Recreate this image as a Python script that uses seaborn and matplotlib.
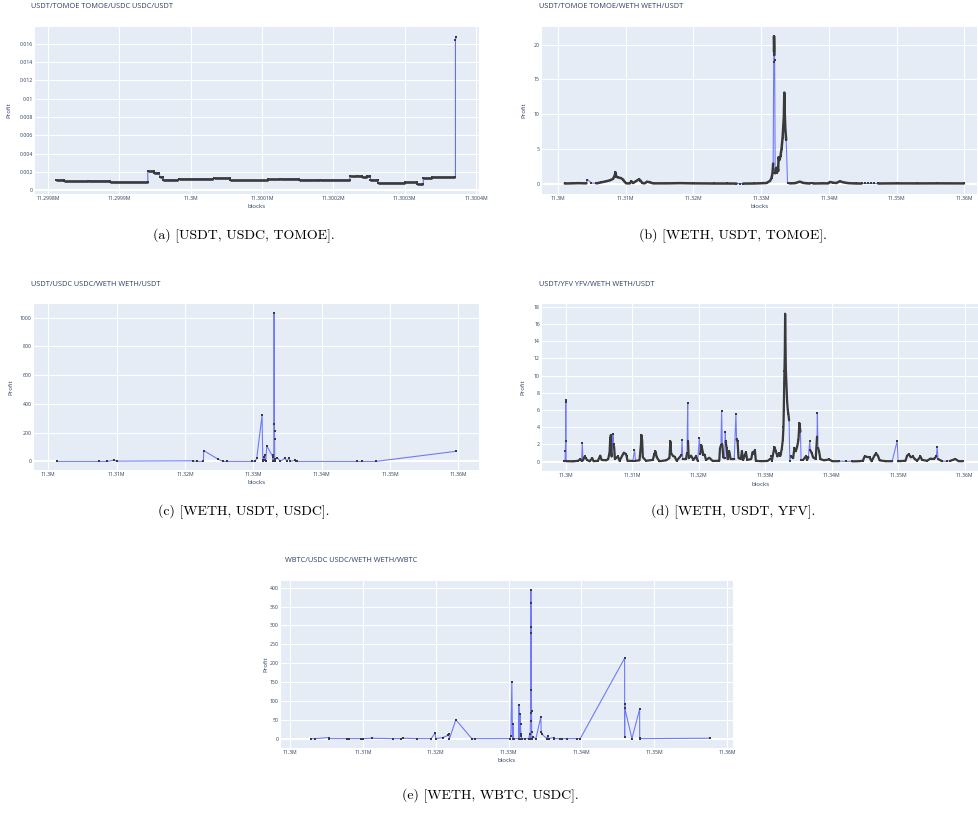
import numpy as np
import pandas as pd
import matplotlib
matplotlib.use("Agg")
import matplotlib.pyplot as plt
from matplotlib.ticker import FuncFormatter, MultipleLocator
import seaborn as sns

# ---- (a) USDT/TOMOE TOMOE/USDC USDC/USDT : step-like profit levels ----
a_start = [11299812, 11299823, 11299856, 11299887, 11299940, 11299949, 11299957, 11299962, 11299984,
           11300033, 11300055, 11300109, 11300125, 11300152, 11300181, 11300223, 11300233, 11300240,
           11300247, 11300252, 11300262, 11300300, 11300317, 11300326, 11300338, 11300371, 11300372]
a_end = [11299823, 11299856, 11299887, 11299940, 11299949, 11299956, 11299961, 11299983, 11300032,
         11300055, 11300109, 11300125, 11300152, 11300181, 11300223, 11300233, 11300240, 11300247,
         11300252, 11300262, 11300300, 11300317, 11300326, 11300338, 11300371, 11300371, 11300372]
a_profit = [0.00112, 0.00098, 0.00105, 0.00090, 0.00210, 0.00195, 0.00145, 0.00116, 0.00127,
            0.00134, 0.00109, 0.00120, 0.00127, 0.00116, 0.00114, 0.00152, 0.00159, 0.00145,
            0.00152, 0.00116, 0.00080, 0.00087, 0.00069, 0.00134, 0.00145, 0.01640, 0.01670]

# ---- (b) USDT/TOMOE TOMOE/WETH WETH/USDT ----
b_block = [11301000, 11302000, 11303000, 11304190, 11304335, 11304926, 11305665, 11306400, 11307143, 11307700,
           11308128, 11308374, 11308473, 11308621, 11308867, 11309300, 11309606, 11309852, 11310098, 11310591,
           11310837, 11311084, 11311576, 11311970, 11312167, 11312463, 11312808, 11313152, 11313547, 11314039,
           11316000, 11318000, 11320000, 11323000, 11325000, 11326355, 11326900, 11327340, 11329000, 11330788,
           11331300, 11331527, 11331675, 11331773, 11331850, 11331880, 11331900, 11331930, 11331960, 11331990,
           11332069, 11332167, 11332300, 11332420, 11332512, 11332561, 11332700, 11332857, 11333005, 11333153,
           11333251, 11333350, 11333420, 11333470, 11333560, 11333695, 11333892, 11334200, 11335000, 11335714,
           11336207, 11336800, 11337192, 11337450, 11337685, 11339000, 11339900, 11340146, 11340639, 11341100,
           11341624, 11342116, 11342855, 11344000, 11344828, 11345400, 11345800, 11346200, 11346700, 11347291,
           11350000, 11353000, 11356000, 11359950]
b_profit = [0.03, 0.05, 0.08, 0.05, 0.60, 0.10, 0.05, 0.20, 0.35, 0.50,
            0.70, 1.20, 1.65, 1.00, 0.90, 0.80, 0.60, 0.25, 0.05, 0.05,
            0.35, 0.10, 0.40, 0.65, 0.45, 0.10, 0.05, 0.30, 0.20, 0.05,
            0.05, 0.08, 0.05, 0.03, 0.03, 0.02, 0.02, 0.02, 0.03, 0.10,
            0.40, 0.80, 1.50, 2.90, 17.5, 19.0, 21.2, 20.0, 18.5, 17.8,
            1.50, 2.20, 1.60, 2.40, 1.80, 3.80, 3.40, 4.00, 5.00, 6.50,
            8.00, 9.60, 13.1, 10.5, 8.00, 6.30, 0.05, 0.05, 0.08, 0.30,
            0.12, 0.05, 0.03, 0.03, 0.03, 0.05, 0.05, 0.25, 0.15, 0.10,
            0.35, 0.20, 0.08, 0.03, 0.03, 0.03, 0.03, 0.03, 0.03, 0.03,
            0.05, 0.04, 0.05, 0.04]
# 1 = block inside a dense run of observations, 0 = isolated observation
b_dense = [1, 1, 1, 1, 0, 0, 1, 1, 1, 1,
           1, 1, 1, 1, 1, 1, 1, 1, 1, 1,
           1, 1, 1, 1, 1, 1, 1, 1, 1, 1,
           1, 1, 1, 1, 1, 1, 0, 1, 1, 1,
           1, 1, 1, 1, 0, 1, 1, 1, 1, 0,
           1, 1, 1, 1, 1, 1, 1, 1, 1, 1,
           1, 1, 1, 1, 1, 1, 0, 1, 1, 1,
           1, 1, 1, 0, 1, 1, 1, 1, 1, 1,
           1, 1, 1, 1, 1, 0, 0, 0, 0, 1,
           1, 1, 1, 1]

# ---- (c) USDT/USDC USDC/WETH WETH/USDT ----
c_block = [11301318, 11307466, 11308638, 11309614, 11310004, 11321130, 11321716, 11322692, 11322741, 11324888,
           11325522, 11326108, 11329866, 11330256, 11330500, 11331281, 11331378, 11331476, 11331574, 11331671,
           11331720, 11331818, 11331964, 11332842, 11332891, 11332940, 11332989, 11333038, 11333086, 11333100,
           11333110, 11333135, 11333184, 11333526, 11333916, 11334648, 11334892, 11335185, 11335380, 11336112,
           11336258, 11336454, 11345238, 11345872, 11347970, 11359634]
c_profit = [0, 0, 0, 9, 2, 4, 0, 0, 75, 14,
            0, 0, 0, 0, 22, 322, 0, 10, 33, 45,
            8, 0, 108, 33, 0, 45, 0, 1030, 257, 211,
            158, 0, 14, 25, 0, 22, 0, 22, 0, 7,
            0, 0, 0, 0, 0, 70]

# ---- (d) USDT/YFV YFV/WETH WETH/USDT ----
d_block = [11299700, 11299900, 11299950, 11299980, 11300000, 11300020, 11300040, 11300080, 11300350, 11301100,
           11301850, 11302200, 11302400, 11302500, 11302600, 11302850, 11303000, 11303200, 11303600, 11304000,
           11304200, 11304850, 11305200, 11305400, 11306100, 11306400, 11306600, 11306700, 11306800, 11306900,
           11307000, 11307100, 11307200, 11307300, 11307400, 11307850, 11308100, 11308750, 11309000, 11309150,
           11309300, 11310100, 11310350, 11310500, 11311100, 11311300, 11311400, 11311500, 11311600, 11312100,
           11313100, 11313350, 11313500, 11313700, 11314100, 11315100, 11315600, 11315750, 11315850, 11316100,
           11316400, 11316700, 11317400, 11317500, 11317600, 11318100, 11318250, 11318350, 11318400, 11318500,
           11318850, 11319200, 11319600, 11319850, 11320100, 11320250, 11320400, 11320550, 11320700, 11320900,
           11321100, 11321600, 11322100, 11323100, 11323200, 11323350, 11323450, 11323550, 11323700, 11323900,
           11324000, 11324050, 11324200, 11324350, 11324600, 11324800, 11325350, 11325600, 11325700, 11325850,
           11326000, 11326350, 11326500, 11326700, 11327100, 11327300, 11327900, 11328100, 11328300, 11328450,
           11328600, 11329350, 11330350, 11330750, 11330900, 11331000, 11331400, 11331600, 11331850, 11332100,
           11332300, 11332500, 11332650, 11332750, 11332800, 11332850, 11332900, 11332950, 11333000, 11333050,
           11333100, 11333200, 11333300, 11333400, 11333500, 11333600, 11333700, 11333900, 11334200, 11334400,
           11334600, 11334800, 11335000, 11335150, 11335300, 11335400, 11335700, 11336100, 11336300, 11336500,
           11336700, 11336800, 11337000, 11337200, 11337600, 11337800, 11337850, 11337950, 11338100, 11338300,
           11338850, 11339600, 11340100, 11341100, 11342100, 11343100, 11344100, 11344700, 11344950, 11345350,
           11345700, 11346000, 11346500, 11346700, 11347000, 11347200, 11348100, 11349100, 11349850, 11350000,
           11351100, 11351350, 11351600, 11351900, 11352200, 11352500, 11352850, 11353350, 11353600, 11354350,
           11354850, 11355350, 11355750, 11355850, 11356000, 11356600, 11357350, 11357850, 11358600, 11359100,
           11359700]
d_profit = [0.05, 0.05, 1.2, 2.4, 7.0, 7.2, 6.9, 0.05, 0.05, 0.03,
            0.10, 0.25, 0.10, 2.2, 0.15, 0.60, 0.45, 0.20, 0.05, 0.40,
            0.05, 0.10, 0.70, 0.20, 0.15, 0.30, 1.10, 2.70, 3.10, 0.60,
            0.80, 3.25, 2.00, 1.60, 0.30, 0.60, 0.10, 1.05, 0.90, 0.70,
            0.10, 0.08, 1.35, 0.10, 0.15, 1.80, 3.10, 2.50, 0.50, 0.10,
            0.20, 0.90, 1.20, 0.50, 0.05, 0.15, 0.40, 2.35, 1.00, 0.70,
            0.55, 0.10, 0.75, 2.55, 0.30, 0.30, 1.00, 6.80, 2.40, 0.40,
            0.70, 0.20, 0.60, 0.10, 2.70, 0.90, 1.90, 1.40, 0.80, 0.80,
            0.20, 0.45, 0.08, 0.10, 1.50, 1.90, 5.85, 2.00, 0.50, 0.40,
            3.50, 2.40, 1.60, 0.30, 1.20, 0.30, 0.30, 5.55, 2.60, 2.35,
            0.40, 0.30, 1.20, 0.20, 1.10, 0.20, 0.30, 1.10, 0.90, 1.35,
            0.10, 0.05, 0.08, 0.30, 0.70, 0.10, 1.70, 1.20, 0.60, 1.00,
            0.70, 1.50, 2.50, 4.00, 6.00, 8.50, 10.5, 12.5, 17.2, 14.5,
            11.0, 9.0, 7.0, 6.0, 5.5, 4.8, 0.10, 0.60, 0.40, 1.60,
            1.20, 1.70, 2.50, 4.50, 3.50, 0.20, 0.20, 0.60, 0.20, 0.50,
            2.40, 1.30, 1.00, 0.50, 0.30, 2.90, 5.65, 1.60, 1.20, 0.30,
            0.15, 0.25, 0.05, 0.05, 0.03, 0.03, 0.05, 0.10, 0.60, 0.55,
            0.50, 0.05, 0.80, 0.95, 0.60, 0.15, 0.05, 0.05, 2.40, 0.05,
            0.10, 0.70, 0.85, 0.50, 0.60, 0.30, 0.10, 0.60, 0.20, 0.10,
            0.35, 0.30, 0.60, 1.70, 0.30, 0.05, 0.05, 0.10, 0.30, 0.05,
            0.05]
d_dense = [1, 1, 0, 0, 0, 0, 0, 1, 1, 1,
           1, 1, 1, 0, 1, 1, 1, 1, 1, 1,
           1, 1, 1, 1, 1, 1, 1, 1, 1, 1,
           1, 0, 1, 1, 1, 1, 1, 1, 1, 1,
           1, 1, 0, 1, 1, 1, 1, 1, 1, 1,
           1, 1, 1, 1, 1, 1, 1, 1, 1, 1,
           1, 1, 1, 0, 1, 1, 1, 0, 1, 1,
           1, 1, 1, 1, 0, 1, 1, 1, 1, 1,
           1, 1, 1, 1, 1, 1, 0, 1, 1, 1,
           0, 1, 1, 1, 1, 1, 1, 0, 1, 1,
           1, 1, 1, 1, 1, 1, 1, 1, 1, 1,
           1, 1, 1, 1, 0, 1, 1, 1, 1, 1,
           1, 1, 1, 1, 1, 1, 1, 1, 1, 1,
           1, 1, 1, 1, 1, 1, 0, 1, 1, 1,
           1, 1, 1, 1, 1, 0, 1, 1, 1, 1,
           0, 1, 1, 1, 1, 1, 0, 1, 1, 1,
           1, 1, 1, 1, 0, 1, 1, 1, 1, 1,
           1, 1, 1, 1, 1, 1, 1, 1, 0, 1,
           1, 1, 1, 1, 1, 1, 1, 1, 1, 1,
           1, 1, 1, 0, 1, 1, 0, 1, 1, 1,
           1]

# ---- (e) WBTC/USDC USDC/WETH WETH/WBTC ----
e_block = [11302885, 11303435, 11305404, 11305410, 11307786, 11308152, 11309710, 11310076, 11311221, 11314198,
           11315206, 11315572, 11317404, 11319373, 11319923, 11320015, 11320976, 11321755, 11321800, 11321892,
           11322763, 11324961, 11325419, 11330228, 11330320, 11330457, 11330549, 11330594, 11330686, 11331373,
           11331419, 11331510, 11331602, 11331648, 11331694, 11331740, 11331831, 11332289, 11332793, 11332884,
           11332976, 11333022, 11333030, 11333068, 11333075, 11333110, 11333120, 11333130, 11333160, 11333170,
           11333205, 11333297, 11333755, 11334442, 11334480, 11334580, 11335266, 11335358, 11335495, 11336182,
           11336274, 11337006, 11337327, 11338014, 11339388, 11339846, 11345937, 11345945, 11345950, 11345960,
           11346945, 11347998, 11348010, 11348090, 11357616]
e_profit = [0, 0, 3, 0, 0, 0, 0, 0, 1, 0,
            0, 1, 0, 0, 15, 0, 3, 9, 12, 0,
            50, 0, 0, 0, 6, 151, 0, 39, 0, 0,
            89, 0, 66, 40, 12, 6, 0, 0, 0, 12,
            0, 67, 47, 395, 359, 295, 279, 130, 74, 18,
            0, 4, 0, 58, 18, 12, 0, 8, 0, 3,
            0, 0, 0, 0, 0, 0, 213, 4, 92, 81,
            0, 78, 2, 0, 1]

titles = ["USDT/TOMOE TOMOE/USDC USDC/USDT", "USDT/TOMOE TOMOE/WETH WETH/USDT",
          "USDT/USDC USDC/WETH WETH/USDT", "USDT/YFV YFV/WETH WETH/USDT",
          "WBTC/USDC USDC/WETH WETH/WBTC"]
captions = ["(a) [USDT, USDC, TOMOE].", "(b) [WETH, USDT, TOMOE].", "(c) [WETH, USDT, USDC].",
            "(d) [WETH, USDT, YFV].", "(e) [WETH, WBTC, USDC]."]

sns.set_theme(style="darkgrid", rc={"axes.facecolor": "#E5ECF6", "grid.color": "white"})
plt.rcParams['font.family'] = ['Open Sans', 'DejaVu Sans']

BLUE = "#636efa"
DARK = "#3a3a3a"
TXT = "#2a3f5f"
W, H = 979, 821

fig = plt.figure(figsize=(W / 100, H / 100), dpi=100)


def px_axes(x0, y0, x1, y1):
    return fig.add_axes([x0 / W, 1 - y1 / H, (x1 - x0) / W, (y1 - y0) / H])


def block_fmt(v, pos):
    return f"{v / 1e6:.4f}".rstrip('0').rstrip('.') + "M"


def style(ax, xlim, ylim, xstep, ystep, ylab_x, xlab_y):
    ax.set_xlim(*xlim)
    ax.set_ylim(*ylim)
    ax.xaxis.set_major_locator(MultipleLocator(xstep))
    ax.yaxis.set_major_locator(MultipleLocator(ystep))
    ax.xaxis.set_major_formatter(FuncFormatter(block_fmt))
    ax.yaxis.set_major_formatter(FuncFormatter(lambda v, p: f"{round(v, 6):g}"))
    ax.tick_params(length=0, pad=1.5, labelsize=3.7, colors=TXT)
    for s in ax.spines.values():
        s.set_visible(False)
    ax.grid(True, color="white", lw=0.8)
    ax.axhline(0, color="white", lw=1.5, zorder=1)
    ax.set_xlabel("blocks", fontsize=4.4, color=TXT)
    ax.set_ylabel("Profit", fontsize=4.4, color=TXT)
    ax.xaxis.set_label_coords(0.5, xlab_y)
    ax.yaxis.set_label_coords(ylab_x, 0.5)


def draw_trace(ax, x, y):
    sns.lineplot(x=x, y=y, sort=False, estimator=None, color=BLUE, lw=0.8, alpha=0.9, ax=ax)
    sns.scatterplot(x=x, y=y, color=DARK, s=4, marker="s", linewidth=0, zorder=3, ax=ax)


def draw_dense(ax, x, y, dense, band_lw):
    df = pd.DataFrame({"block": x, "profit": y, "dense": dense})
    df["run"] = (df["dense"] == 0).cumsum()
    sns.lineplot(data=df, x="block", y="profit", sort=False, estimator=None,
                 color=BLUE, lw=0.8, alpha=0.9, ax=ax)
    band = df[df["dense"] == 1]
    sns.lineplot(data=band, x="block", y="profit", units="run", estimator=None, sort=False,
                 color=DARK, lw=band_lw, ax=ax)
    sns.scatterplot(data=df, x="block", y="profit", color=DARK, s=4, marker="s",
                    linewidth=0, zorder=3, ax=ax)


# (a)
ax_a = px_axes(35, 27, 479, 194)
a_x = np.ravel(np.column_stack([a_start, a_end]))
a_y = np.repeat(a_profit, 2)
sns.lineplot(x=a_x, y=a_y, sort=False, estimator=None, color=BLUE, lw=0.8, ax=ax_a)
ax_a.hlines(a_profit, a_start, a_end, color=DARK, lw=1.9, zorder=3)
sns.scatterplot(x=a_x, y=a_y, color=DARK, s=4, marker="s", linewidth=0, zorder=3, ax=ax_a)
style(ax_a, (11299782, 11300404), (-0.00039, 0.0178), 100, 0.002, -0.054, -0.057)

# (b)
ax_b = px_axes(542, 27, 977, 194)
draw_dense(ax_b, b_block, b_profit, b_dense, 1.8)
style(ax_b, (11297633, 11361874), (-1.48, 22.53), 10000, 5, -0.037, -0.057)

# (c)
ax_c = px_axes(34, 304, 479, 470)
draw_trace(ax_c, c_block, c_profit)
style(ax_c, (11297902, 11363024), (-60, 1095), 10000, 200, -0.047, -0.063)

# (d)
ax_d = px_axes(542, 304, 979, 471)
draw_dense(ax_d, d_block, d_profit, d_dense, 1.6)
style(ax_d, (11296441, 11362155), (-1.09, 18.33), 10000, 2, -0.037, -0.063)

# (e)
ax_e = px_axes(281, 581, 733, 748)
draw_trace(ax_e, e_block, e_profit)
style(ax_e, (11298760, 11360820), (-24.8, 417.7), 10000, 50, -0.027, -0.057)

# plotly-like titles, left aligned above each panel
for (tx, ty), t in zip([(31, 7), (539, 7), (31, 284), (539, 284), (285, 561)], titles):
    fig.text(tx / W, 1 - ty / H, t, fontsize=5.3, color=TXT, ha="left", va="center")

# LaTeX-like sub-captions
for (cx, cy), c in zip([(244, 236), (733, 236), (244, 512), (733, 512), (490, 796)], captions):
    fig.text(cx / W, 1 - cy / H, c, fontsize=10, family="cmr10", color="black",
             ha="center", va="center")

fig.savefig("out.png", dpi=100)
